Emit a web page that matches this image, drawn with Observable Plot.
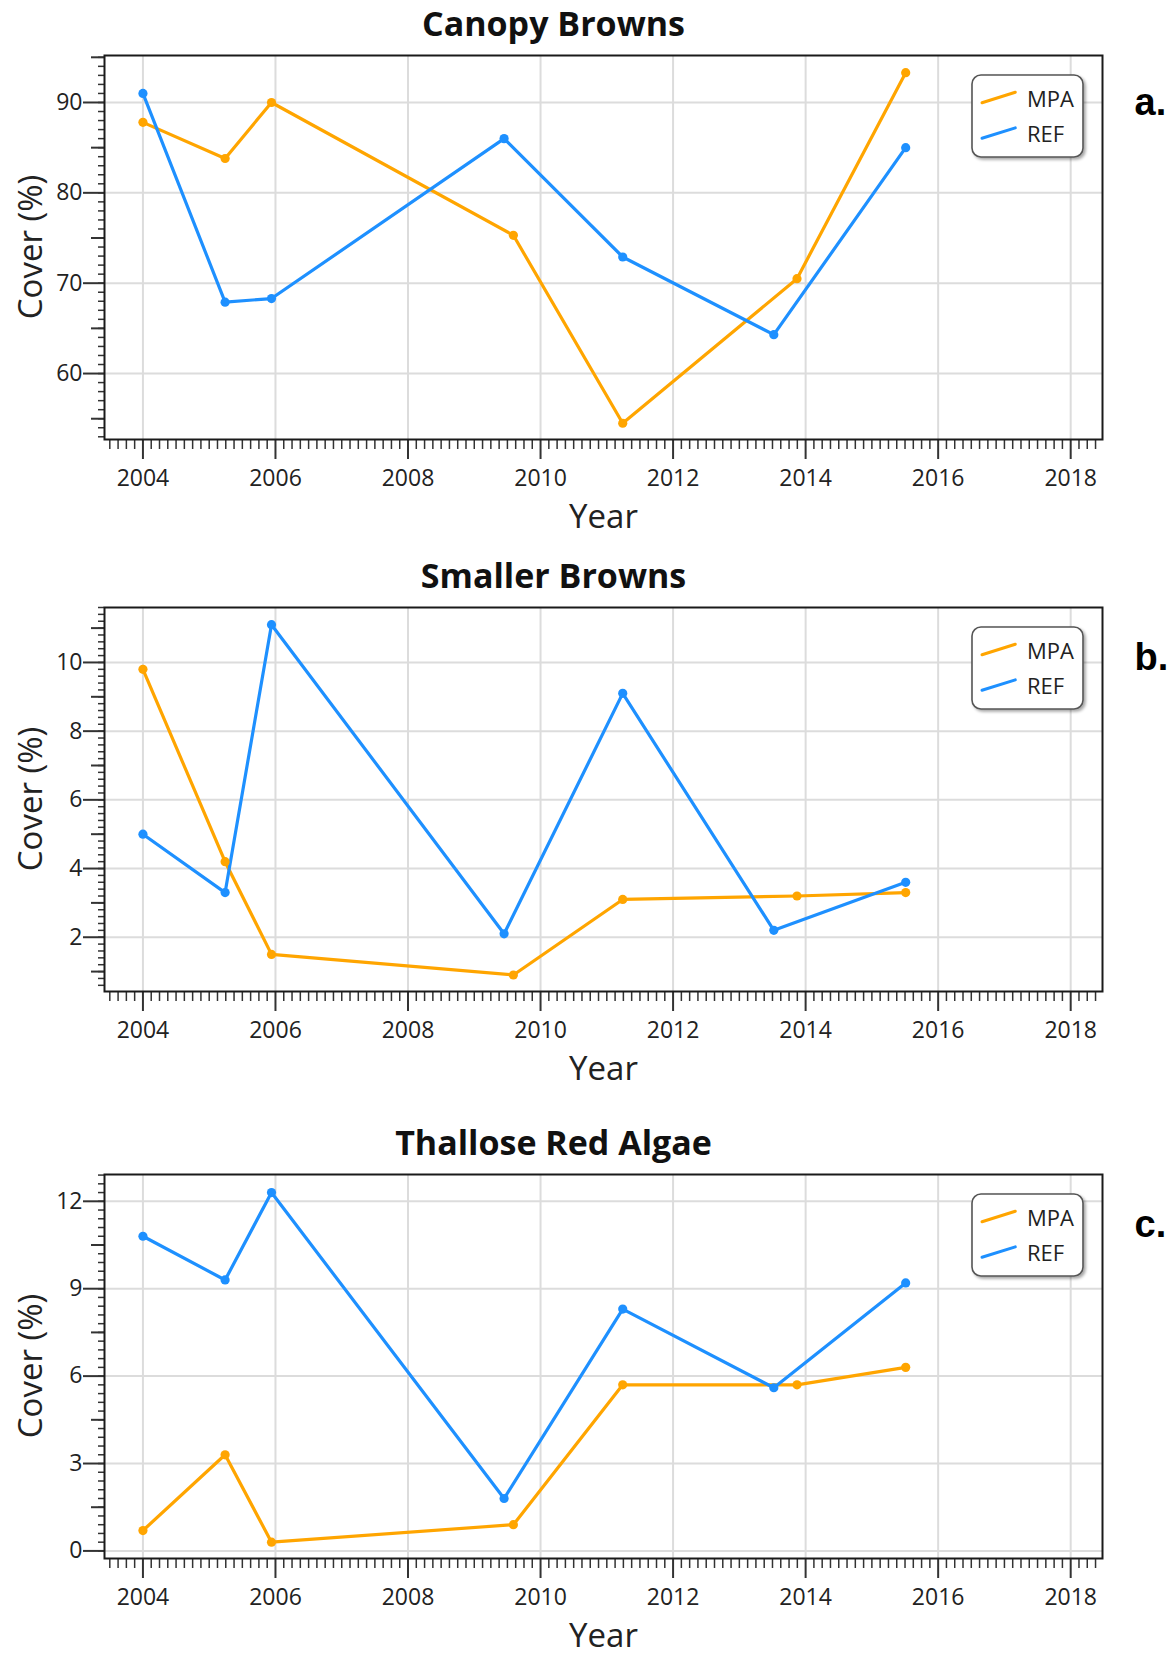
<!DOCTYPE html>
<html>
<head>
<meta charset="utf-8">
<script src="https://cdn.jsdelivr.net/npm/d3@7"></script>
<script src="https://cdn.jsdelivr.net/npm/@observablehq/plot@0.6"></script>
<style>
  html, body { margin: 0; padding: 0; background: #fff; }
  #chart { position: relative; width: 1176px; height: 1656px; background: #fff; }
  #chart svg { position: absolute; left: 0; }
</style>
</head>
<body>
<div id="chart"></div>
<script>
// ---- data ----
const seriesNames = ["MPA", "REF"];
const seriesColors = ["#FFA500", "#1E90FF"];
const yearsMPA = [2004.0, 2005.24, 2005.94, 2009.59, 2011.24, 2013.87, 2015.51];
const yearsREF = [2004.0, 2005.24, 2005.94, 2009.45, 2011.24, 2013.52, 2015.51];

const canopyMPA = [87.8, 83.8, 90.0, 75.3, 54.5, 70.5, 93.3];
const canopyREF = [91.0, 67.9, 68.3, 86.0, 72.9, 64.3, 85.0];
const smallerMPA = [9.8, 4.2, 1.5, 0.9, 3.1, 3.2, 3.3];
const smallerREF = [5.0, 3.3, 11.1, 2.1, 9.1, 2.2, 3.6];
const thalloseMPA = [0.7, 3.3, 0.3, 0.9, 5.7, 5.7, 6.3];
const thalloseREF = [10.8, 9.3, 12.3, 1.8, 8.3, 5.6, 9.2];

const panelTitles = ["Canopy Browns", "Smaller Browns", "Thallose Red Algae"];
const panelLetters = ["a.", "b.", "c."];
const xTickLabels = [2004, 2006, 2008, 2010, 2012, 2014, 2016, 2018];
const yTicksCanopy = [60, 70, 80, 90];
const yTicksSmaller = [2, 4, 6, 8, 10];
const yTicksThallose = [0, 3, 6, 9, 12];
const xLabel = "Year";
const yLabel = "Cover (%)";

// ---- layout ----
const W = 1176, H = 537;
const mL = 104, mR = 74, mT = 55, mB = 98;
const xDomain = [2003.42, 2018.48];
const panels = [
  {title: panelTitles[0], letter: panelLetters[0], mpa: canopyMPA, ref: canopyREF, yTicks: yTicksCanopy,
   yDomain: [52.7, 95.2], minor: 1, medium: 5, top: 0, letterDy: 47},
  {title: panelTitles[1], letter: panelLetters[1], mpa: smallerMPA, ref: smallerREF, yTicks: yTicksSmaller,
   yDomain: [0.42, 11.6], minor: 0.2, medium: 1, top: 552, letterDy: 50},
  {title: panelTitles[2], letter: panelLetters[2], mpa: thalloseMPA, ref: thalloseREF, yTicks: yTicksThallose,
   yDomain: [-0.26, 12.92], minor: 0.3, medium: 1.5, top: 1119, letterDy: 50}
];

function stepTicks(step, d) {
  const out = [];
  const start = Math.ceil(d[0] / step - 1e-9);
  const end = Math.floor(d[1] / step + 1e-9);
  for (let i = start; i <= end; i++) out.push(+(i * step).toFixed(6));
  return out;
}

const font = "'Open Sans', 'Noto Sans', sans-serif";
const chart = document.getElementById("chart");

panels.forEach((p, k) => {
  const rows = [];
  yearsMPA.forEach((yr, i) => rows.push({series: seriesNames[0], year: yr, value: p.mpa[i]}));
  yearsREF.forEach((yr, i) => rows.push({series: seriesNames[1], year: yr, value: p.ref[i]}));

  const xMinor = stepTicks(0.125, xDomain).filter(v => !xTickLabels.includes(v));
  const yMinor = stepTicks(p.minor, p.yDomain);
  const yMedium = stepTicks(p.medium, p.yDomain).filter(v => !p.yTicks.includes(v));

  const svg = Plot.plot({
    width: W, height: H,
    marginLeft: mL, marginRight: mR, marginTop: mT, marginBottom: mB,
    style: {fontFamily: font, background: "transparent", overflow: "visible"},
    x: {domain: xDomain},
    y: {domain: p.yDomain},
    color: {domain: seriesNames, range: seriesColors},
    marks: [
      Plot.gridX(xTickLabels, {stroke: "#dcdcdc", strokeOpacity: 1, strokeWidth: 2}),
      Plot.gridY(p.yTicks, {stroke: "#dcdcdc", strokeOpacity: 1, strokeWidth: 2}),
      // x ticks
      Plot.axisX(xMinor, {tickSize: 10, tickFormat: () => "", label: null, stroke: "#333", strokeWidth: 1.5}),
      Plot.axisX(xTickLabels, {tickSize: 20, tickFormat: () => "", label: null, stroke: "#333", strokeWidth: 2}),
      Plot.text(xTickLabels, {x: d => d, frameAnchor: "bottom", dy: 39, text: d => String(d),
        fontSize: 23, fill: "#222", lineAnchor: "middle"}),
      // y ticks
      Plot.axisY(yMinor, {tickSize: 6, tickFormat: () => "", label: null, stroke: "#333", strokeWidth: 1.5}),
      Plot.axisY(yMedium, {tickSize: 13, tickFormat: () => "", label: null, stroke: "#333", strokeWidth: 2}),
      Plot.axisY(p.yTicks, {tickSize: 21, tickFormat: () => "", label: null, stroke: "#333", strokeWidth: 2}),
      Plot.text(p.yTicks, {y: d => d, frameAnchor: "left", dx: -22, text: d => String(d),
        textAnchor: "end", fontSize: 23, fill: "#222", lineAnchor: "middle"}),
      // data
      Plot.line(rows, {x: "year", y: "value", stroke: "series", z: "series", strokeWidth: 3.2}),
      Plot.dot(rows, {x: "year", y: "value", fill: "series", r: 4.6}),
      Plot.frame({stroke: "#1a1a1a", strokeWidth: 2}),
      // labels
      Plot.text([p.title], {frameAnchor: "top", dx: -50, dy: -30, fontSize: 34, fontWeight: "bold",
        fill: "#111", lineAnchor: "middle"}),
      Plot.text([xLabel], {frameAnchor: "bottom", dy: 78, fontSize: 33, fill: "#222", lineAnchor: "middle"}),
      Plot.text([p.letter], {frameAnchor: "top-right", dx: 32, dy: p.letterDy, textAnchor: "start",
        fontSize: 38, fontWeight: "bold", fill: "#000", lineAnchor: "middle",
        fontFamily: "'Liberation Sans', Arial, sans-serif"})
    ]
  });
  svg.style.top = p.top + "px";

  const s = d3.select(svg);
  // rotated y-axis label
  const frameMidY = mT + (H - mT - mB) / 2;
  s.append("text")
    .attr("transform", `translate(30,${frameMidY}) rotate(-90)`)
    .attr("text-anchor", "middle").attr("dy", "0.35em")
    .attr("font-family", font).attr("font-size", 33).attr("fill", "#222")
    .text(yLabel);

  // legend box
  const fid = "shadow" + k;
  s.append("defs").append("filter").attr("id", fid)
    .attr("x", "-20%").attr("y", "-20%").attr("width", "150%").attr("height", "150%")
    .append("feDropShadow").attr("dx", 2).attr("dy", 2).attr("stdDeviation", 1.8)
    .attr("flood-color", "#000").attr("flood-opacity", 0.35);
  const bw = 111, bh = 82;
  const bx = W - mR - 19 - bw, by = mT + 20;
  const g = s.append("g").attr("transform", `translate(${bx},${by})`);
  g.append("rect").attr("width", bw).attr("height", bh).attr("rx", 9).attr("ry", 9)
    .attr("fill", "#fff").attr("stroke", "#555").attr("stroke-width", 1.6).attr("filter", `url(#${fid})`);
  seriesNames.forEach((name, i) => {
    const oy = i * 35.6;
    g.append("line").attr("x1", 10).attr("y1", 27.7 + oy).attr("x2", 43.3).attr("y2", 17.3 + oy)
      .attr("stroke", seriesColors[i]).attr("stroke-width", 3).attr("stroke-linecap", "round");
    g.append("text").attr("x", 55).attr("y", 31.5 + oy).text(name)
      .attr("text-anchor", "start")
      .attr("font-family", font).attr("font-size", 22).attr("fill", "#222");
  });

  chart.appendChild(svg);
});
</script>
</body>
</html>
